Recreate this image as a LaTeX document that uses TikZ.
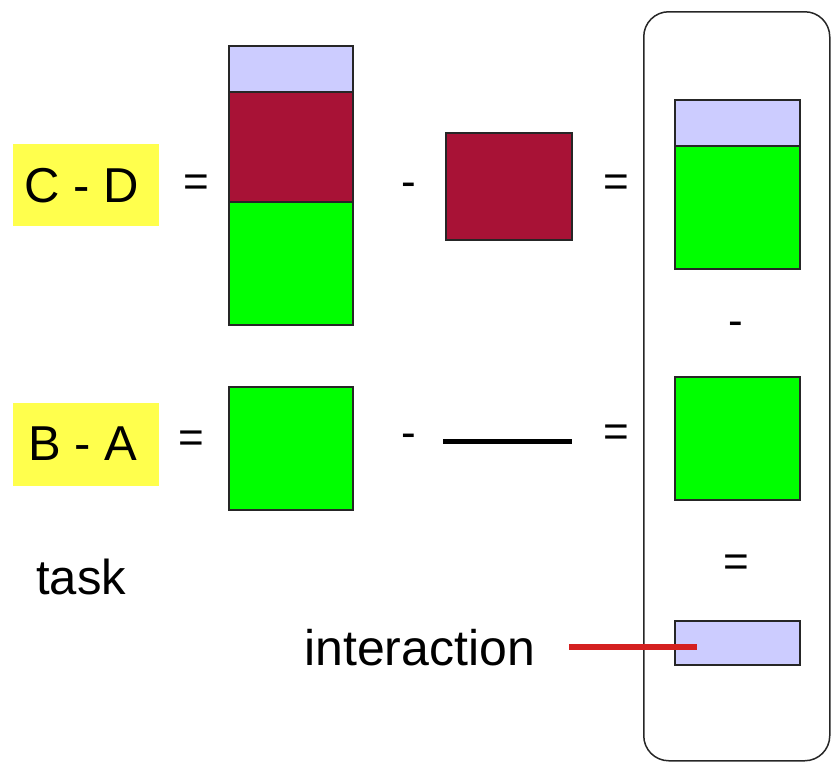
\documentclass[tikz,border=0pt]{standalone}
\usepackage{fontspec}
\setmainfont{Liberation Sans}
\definecolor{lav}{HTML}{CCCCFF}
\definecolor{maroon}{HTML}{A81236}
\definecolor{grn}{HTML}{00FF00}
\definecolor{yel}{HTML}{FFFF4D}
\definecolor{redln}{HTML}{D42020}
\begin{document}
\begin{tikzpicture}[x=1pt,y=-1pt,
  box/.style={draw=black!85,line width=1.5pt,inner sep=0pt,anchor=north west},
  lbl/.style={font=\fontsize{49}{56}\selectfont,inner sep=0pt},
  op/.style={font=\fontsize{44}{50}\selectfont,inner sep=0pt},
  hl/.style={fill=yel,inner sep=0pt,anchor=north west}]
\useasboundingbox (0,0) rectangle (832,761);
% frame
\node[draw=black!85,line width=1.5pt,rounded corners=25pt,anchor=north west,inner sep=0pt,minimum width=186pt,minimum height=749pt] (frame) at (643,11) {};
% C - D row
\node[hl,minimum width=146pt,minimum height=82pt] (cdbg) at (13,144) {};
\node[lbl] (cd) at (82,186) {C - D};
\node[op] (eq1) at (196,186) {=};
\node[box,fill=lav,minimum width=124pt,minimum height=46pt] (s1) at (228,45) {};
\node[box,fill=maroon,minimum width=124pt,minimum height=110pt] (s2) at (228,91) {};
\node[box,fill=grn,minimum width=124pt,minimum height=123pt] (s3) at (228,201) {};
\node[op] (mi1) at (409,190) {-};
\node[box,fill=maroon,minimum width=126pt,minimum height=107pt] (m1) at (445,132) {};
\node[op] (eq2) at (616,186) {=};
\node[box,fill=lav,minimum width=125pt,minimum height=46pt] (r1) at (674,99) {};
\node[box,fill=grn,minimum width=125pt,minimum height=123pt] (r2) at (674,145) {};
\node[op] (mi3) at (736,329) {-};
% B - A row
\node[hl,minimum width=146pt,minimum height=83pt] (babg) at (13,403) {};
\node[lbl] (ba) at (83,444) {B - A};
\node[op] (eq3) at (191,442) {=};
\node[box,fill=grn,minimum width=124pt,minimum height=123pt] (g1) at (228,386) {};
\node[op] (mi2) at (409,441) {-};
\coordinate (bl1) at (443,441);
\coordinate (bl2) at (572,441);
\draw[line width=5pt] (bl1) -- (bl2);
\node[op] (eq4) at (616,436) {=};
\node[box,fill=grn,minimum width=125pt,minimum height=123pt] (r3) at (674,376) {};
\node[op] (eq5) at (736,566) {=};
\node[box,fill=lav,minimum width=125pt,minimum height=44pt] (r4) at (674,620) {};
% labels
\node[lbl,anchor=west] (task) at (36,577) {task};
\node[lbl,anchor=west,font=\fontsize{50}{56}\selectfont] (intr) at (304,648) {interaction};
\coordinate (rl1) at (569,647);
\coordinate (rl2) at (697,647);
\draw[redln,line width=5.5pt] (rl1) -- (rl2);
\end{tikzpicture}
\end{document}
